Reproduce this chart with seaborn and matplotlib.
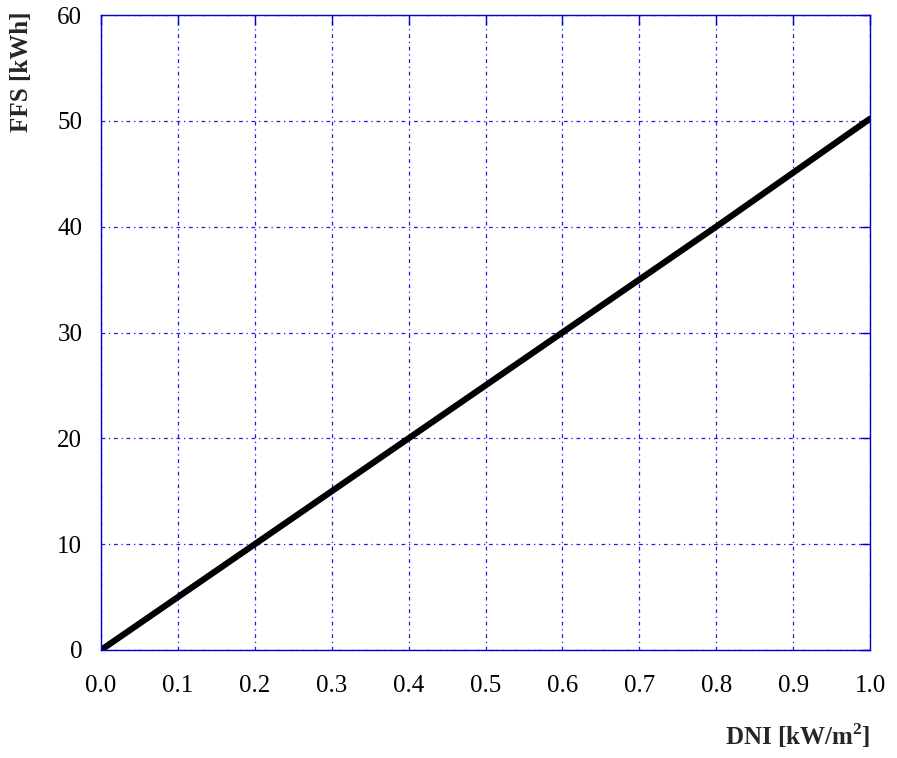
import matplotlib
matplotlib.use("Agg")
import matplotlib.pyplot as plt
import seaborn as sns
import pandas as pd

dni = [0.0, 0.2, 0.4, 0.6, 0.8, 1.0]
ffs = [0.0, 10.0, 20.0, 30.0, 40.0, 50.2]
x_ticks = [0.0, 0.1, 0.2, 0.3, 0.4, 0.5, 0.6, 0.7, 0.8, 0.9, 1.0]
y_ticks = [0, 10, 20, 30, 40, 50, 60]

sns.set_style("white")
plt.rcParams['font.family'] = ['Liberation Serif', 'DejaVu Serif']
plt.rcParams['mathtext.fontset'] = 'custom'
plt.rcParams['mathtext.rm'] = 'Liberation Serif'
plt.rcParams['mathtext.bf'] = 'Liberation Serif:bold'

df = pd.DataFrame({"DNI": dni, "FFS": ffs})

fig = plt.figure(figsize=(8.97, 7.58), dpi=100)
ax = fig.add_axes([101/897, 1-650/758, (870-101)/897, (650-15)/758])

sns.lineplot(data=df, x="DNI", y="FFS", ax=ax, color="black", linewidth=4.5)

ax.set_xlim(0, 1.0)
ax.set_ylim(0, 60)
ax.set_xticks(x_ticks)
ax.set_xticklabels([f"{v:.1f}" for v in x_ticks])
ax.set_yticks(y_ticks)
ax.set_yticklabels([str(v) for v in y_ticks])
ax.grid(True, color="#1a1aee", linestyle=(0, (3, 3, 1, 3)), linewidth=0.9)
for s in ax.spines.values():
    s.set_color("#0000cc")
    s.set_linewidth(1.0)
ax.tick_params(axis="both", direction="in", colors="#0000cc", length=7, width=1,
               labelsize=18, labelcolor="black", top=True, right=True)
ax.tick_params(axis="x", pad=18)
ax.tick_params(axis="y", pad=13.5)
ax.set_xlabel("")
ax.set_ylabel("")
fig.text(870/897, 1-736/758, "DNI [kW/m$^{\\mathbf{2}}$]", ha="right", va="center",
         fontsize=18, fontweight="bold")
fig.text(22/897, 1-12/758, "FFS [kWh]", ha="center", va="top", rotation=90,
         fontsize=18, fontweight="bold")

fig.savefig("out.png", dpi=100)
